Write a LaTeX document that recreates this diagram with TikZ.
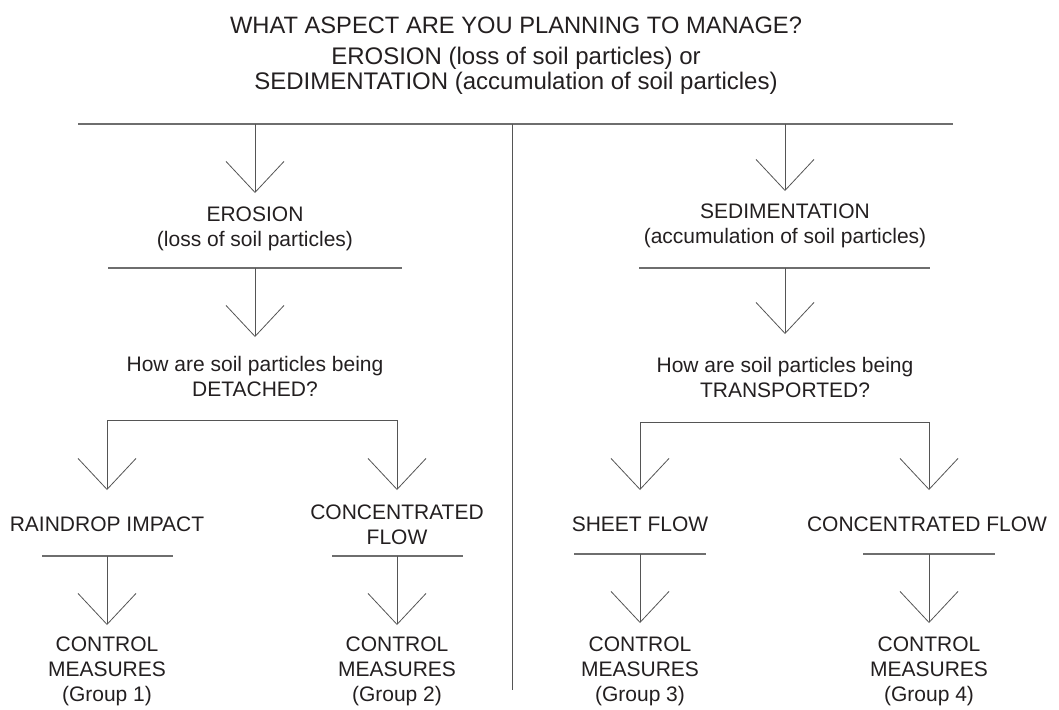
\documentclass[tikz,border=0pt]{standalone}
\usepackage{fontspec}
\setmainfont{Liberation Sans}
\usetikzlibrary{arrows.meta}
\definecolor{ink}{HTML}{231F20}
\definecolor{linec}{HTML}{6E6E6E}
\definecolor{connc}{HTML}{555555}
\tikzset{
  txt/.style={text=ink, align=center, inner sep=0pt, font=\fontsize{21}{25}\selectfont},
  ttl/.style={text=ink, align=center, inner sep=0pt, font=\fontsize{23.7}{25}\selectfont},
  subttl/.style={text=ink, align=center, inner sep=0pt, font=\fontsize{24}{25}\selectfont},
  bar/.style={draw=linec, line width=1.4pt},
  conn/.style={draw=connc, line width=1pt, -{Straight Barb[length=31pt,width=58pt,line width=0.8pt]}},
  plain/.style={draw=connc, line width=1pt}
}
\begin{document}
\begin{tikzpicture}[x=1pt,y=-1pt]
\useasboundingbox (0,0) rectangle (1059,709);
% titles
\node[ttl] (title) at (516,25) {WHAT ASPECT ARE YOU PLANNING TO MANAGE?};
\node[subttl] (sub) at (516,71) {EROSION (loss of soil particles) or\\SEDIMENTATION (accumulation of soil particles)};
% top bar and divider
\coordinate (tL) at (78,124);
\coordinate (tR) at (953,124);
\coordinate (dTop) at (512,124);
\coordinate (dBot) at (512,690);
\draw[bar] (tL) -- (tR);
\draw[plain] (dTop) -- (dBot);
% ---------- left side ----------
\coordinate (eTop) at (255,124);
\coordinate (eTip) at (255,193);
\node[txt] (ero) at (255,229) {EROSION\\(loss of soil particles)};
\coordinate (ebL) at (108,268);
\coordinate (ebR) at (402,268);
\coordinate (ebM) at (255,268);
\coordinate (qdTip) at (255,337);
\node[txt] (qd) at (255,376) {How are soil particles being\\DETACHED?};
\draw[conn] (eTop) -- (eTip);
\draw[bar] (ebL) -- (ebR);
\draw[conn] (ebM) -- (qdTip);
% branch
\coordinate (brL) at (255,420);
\coordinate (rdTip) at (107,490);
\coordinate (cfTip) at (397,490);
\draw[conn] (brL) -| (rdTip);
\draw[conn] (brL) -| (cfTip);
\node[txt] (rd) at (107,524) {RAINDROP IMPACT};
\node[txt] (cf) at (397,525) {CONCENTRATED\\FLOW};
\coordinate (rbL) at (42,556);
\coordinate (rbR) at (173,556);
\coordinate (rbM) at (107,556);
\coordinate (cbL) at (332,556);
\coordinate (cbR) at (463,556);
\coordinate (cbM) at (397,556);
\draw[bar] (rbL) -- (rbR);
\draw[bar] (cbL) -- (cbR);
\coordinate (g1Tip) at (107,625);
\coordinate (g2Tip) at (397,625);
\draw[conn] (rbM) -- (g1Tip);
\draw[conn] (cbM) -- (g2Tip);
\node[txt] (g1) at (107,671) {CONTROL\\MEASURES\\(Group 1)};
\node[txt] (g2) at (397,671) {CONTROL\\MEASURES\\(Group 2)};
% ---------- right side ----------
\coordinate (sTop) at (785,124);
\coordinate (sTip) at (785,191);
\node[txt] (sed) at (785,226) {SEDIMENTATION\\(accumulation of soil particles)};
\coordinate (sbL) at (639,268);
\coordinate (sbR) at (930,268);
\coordinate (sbM) at (785,268);
\coordinate (qtTip) at (785,334);
\node[txt] (qt) at (785,377) {How are soil particles being\\TRANSPORTED?};
\draw[conn] (sTop) -- (sTip);
\draw[bar] (sbL) -- (sbR);
\draw[conn] (sbM) -- (qtTip);
% branch
\coordinate (brR) at (785,422);
\coordinate (sfTip) at (640,490);
\coordinate (c2Tip) at (929,490);
\draw[conn] (brR) -| (sfTip);
\draw[conn] (brR) -| (c2Tip);
\node[txt] (sf) at (640,524) {SHEET FLOW};
\node[txt] (c2) at (927,524) {CONCENTRATED FLOW};
\coordinate (fbL) at (574,554);
\coordinate (fbR) at (706,554);
\coordinate (fbM) at (640,554);
\coordinate (hbL) at (863,554);
\coordinate (hbR) at (995,554);
\coordinate (hbM) at (929,554);
\draw[bar] (fbL) -- (fbR);
\draw[bar] (hbL) -- (hbR);
\coordinate (g3Tip) at (640,623);
\coordinate (g4Tip) at (929,623);
\draw[conn] (fbM) -- (g3Tip);
\draw[conn] (hbM) -- (g4Tip);
\node[txt] (g3) at (640,671) {CONTROL\\MEASURES\\(Group 3)};
\node[txt] (g4) at (929,671) {CONTROL\\MEASURES\\(Group 4)};
\end{tikzpicture}
\end{document}
